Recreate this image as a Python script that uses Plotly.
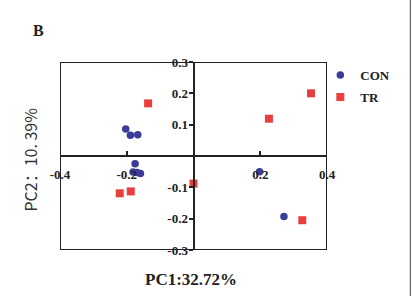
import plotly.graph_objects as go

con_x = [-0.203, -0.189, -0.167, -0.175, -0.181, -0.169, -0.159, 0.198, 0.271]
con_y = [0.086, 0.066, 0.068, -0.025, -0.051, -0.053, -0.056, -0.050, -0.193]
tr_x = [-0.136, -0.221, -0.188, 0.0, 0.226, 0.352, 0.326]
tr_y = [0.168, -0.119, -0.113, -0.088, 0.119, 0.200, -0.205]

x_ticks = [-0.4, -0.2, 0.2, 0.4]
y_ticks = [-0.3, -0.2, -0.1, 0.1, 0.2, 0.3]

serif_bold = dict(family="Liberation Serif", size=13, color="#222", weight="bold")

fig = go.Figure()
fig.add_trace(go.Scatter(x=con_x, y=con_y, mode="markers", name="CON",
                         marker=dict(symbol="circle", size=7.5, color="#3b3b9a"),
                         legend="legend"))
fig.add_trace(go.Scatter(x=tr_x, y=tr_y, mode="markers", name="TR",
                         marker=dict(symbol="square", size=8, color="#e8403f"),
                         legend="legend2"))

fig.add_shape(type="rect", xref="x", yref="y", x0=-0.4, x1=0.4, y0=-0.3, y1=0.3,
              line=dict(color="#222", width=2), layer="below")
fig.add_shape(type="line", xref="paper", yref="paper", x0=1.312, x1=1.312, y0=-0.33, y1=1.33,
              line=dict(color="#444", width=1))

fig.update_layout(
    width=412, height=296,
    margin=dict(l=60, r=85, t=62, b=46),
    paper_bgcolor="white", plot_bgcolor="white",
    xaxis=dict(range=[-0.4, 0.4], anchor="free", position=0.5,
               showgrid=False, zeroline=False, showline=True, linecolor="#222", linewidth=2,
               ticks="inside", ticklen=4, tickcolor="#222", tickwidth=2,
               tickvals=x_ticks, ticktext=["-0.4", "-0.2", "0.2", "0.4"],
               tickfont=serif_bold, ticklabelstandoff=6),
    yaxis=dict(range=[-0.3, 0.3], anchor="free", position=0.5,
               showgrid=False, zeroline=False, showline=True, linecolor="#222", linewidth=2,
               ticks="outside", ticklen=4, tickcolor="#222", tickwidth=2,
               tickvals=y_ticks, ticktext=["-0.3", "-0.2", "-0.1", "0.1", "0.2", "0.3"],
               tickfont=serif_bold, ticklabelstandoff=-2),
    legend=dict(x=0.975, y=0.931, xanchor="left", yanchor="middle",
                font=dict(family="Liberation Serif", size=13, color="#222", weight="bold"),
                bgcolor="rgba(0,0,0,0)"),
    legend2=dict(x=0.975, y=0.814, xanchor="left", yanchor="middle",
                 font=dict(family="Liberation Serif", size=13, color="#222", weight="bold"),
                 bgcolor="rgba(0,0,0,0)"),
    showlegend=True,
)

fig.add_annotation(text="B", xref="paper", yref="paper", x=-0.08, y=1.17,
                   showarrow=False, xanchor="center", yanchor="middle",
                   font=dict(family="Liberation Serif", size=16, color="#222", weight="bold"))
fig.add_annotation(text="PC1:32.72%", xref="paper", yref="paper", x=0.49, y=-0.155,
                   showarrow=False, xanchor="center", yanchor="middle",
                   font=dict(family="Liberation Serif", size=17, color="#222", weight="bold"))
fig.add_annotation(text="PC2：10. 39%", xref="paper", yref="paper", x=-0.113, y=0.48,
                   showarrow=False, xanchor="center", yanchor="middle", textangle=-90,
                   font=dict(family="Noto Sans CJK SC", size=16, color="#333"))

fig.write_html("out.html")
